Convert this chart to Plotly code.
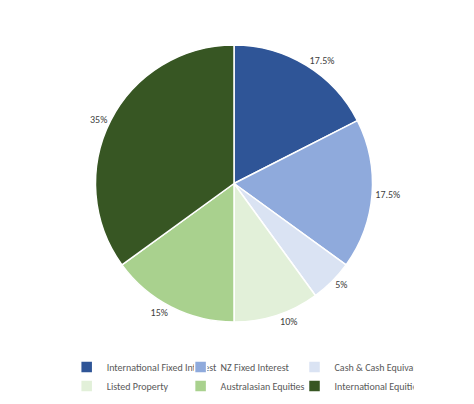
import plotly.graph_objects as go

labels = ['International Fixed Interest', 'NZ Fixed Interest', 'Cash & Cash Equivalents',
          'Listed Property', 'Australasian Equities', 'International Equities']
values = [17.5, 17.5, 5, 10, 15, 35]
text = ['17.5%', '17.5%', '5%', '10%', '15%', '35%']
colors = ['#2F5597', '#8FAADC', '#DAE3F3', '#E2F0D9', '#A9D18E', '#375623']

fig = go.Figure(go.Pie(
    labels=labels, values=values, text=text, textinfo='text',
    textposition='outside', sort=False, direction='clockwise', rotation=0,
    marker=dict(colors=colors, line=dict(color='white', width=1.5)),
    textfont=dict(size=10, color='#404040'), showlegend=True,
))
fig.update_layout(
    width=474, height=404,
    margin=dict(l=20, r=20, t=37, b=81),
    paper_bgcolor='white',
    font=dict(family='Calibri, Liberation Sans, sans-serif', color='#595959'),
    legend=dict(orientation='h', x=0.03, y=-0.11, xanchor='left', yanchor='top',
                entrywidthmode='fraction', entrywidth=0.32, font=dict(size=10),
                itemwidth=30, tracegroupgap=0),
)
fig.write_html('out.html')
